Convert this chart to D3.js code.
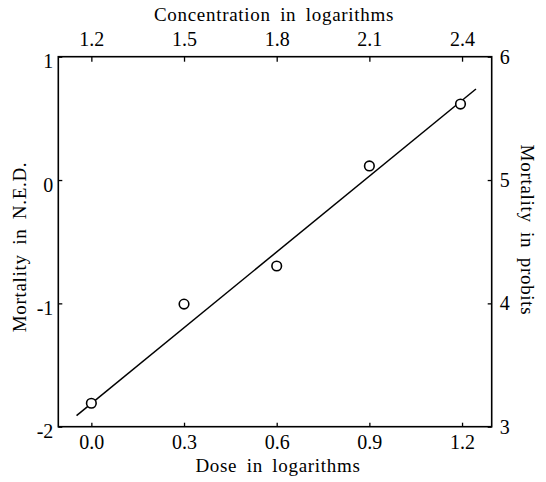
<!DOCTYPE html>
<html>
<head>
<meta charset="utf-8">
<script src="https://cdn.jsdelivr.net/npm/d3@7"></script>
<style>
  body { margin: 0; background: #fff; }
  text { font-family: "Liberation Serif", "Times New Roman", serif; fill: #000; }
</style>
</head>
<body>
<div id="chart"></div>
<script>
// data
var doses = [0.0, 0.3, 0.6, 0.9, 1.195];
var mortalityNed = [-1.81, -1.006, -0.697, 0.114, 0.616];
// fitted line end points (dose, N.E.D.)
var lineDose = [-0.048, 1.245];
var lineNed = [-1.91, 0.738];
// tick labels
var doseTicks = [0.0, 0.3, 0.6, 0.9, 1.2];
var concTicks = [1.2, 1.5, 1.8, 2.1, 2.4];
var nedTicks = [-2, -1, 0, 1];
var probitTicks = [3, 4, 5, 6];

var margin = { top: 56.7, right: 54.3, bottom: 55.3, left: 58.3 },
  width = 546 - margin.left - margin.right,
  height = 482 - margin.top - margin.bottom;

var svg = d3.select("#chart")
  .append("svg")
  .attr("width", 546)
  .attr("height", 482);

var chart = svg.append("g")
  .attr("transform", "translate(" + margin.left + "," + margin.top + ")");

var x = d3.scaleLinear().domain([-0.107, 1.296]).range([0, width]);
var xTop = d3.scaleLinear().domain([-0.107 + 1.2, 1.296 + 1.2]).range([0, width]);
var y = d3.scaleLinear().domain([-2, 1]).range([height, 0]);
var yRight = d3.scaleLinear().domain([3, 6]).range([height, 0]);

// plain hyphen for negatives, like the printed figure
var intFmt = function (d) { return String(d); };

// bottom axis
var gb = chart.append("g")
  .attr("transform", "translate(0," + height + ")")
  .call(d3.axisBottom(x).tickValues(doseTicks).tickFormat(d3.format(".1f"))
    .tickSizeInner(-4).tickSizeOuter(0).tickPadding(8));

// top axis
var gt = chart.append("g")
  .call(d3.axisTop(xTop).tickValues(concTicks).tickFormat(d3.format(".1f"))
    .tickSizeInner(-5).tickSizeOuter(0).tickPadding(11));

// left axis
var gl = chart.append("g")
  .call(d3.axisLeft(y).tickValues(nedTicks).tickFormat(intFmt)
    .tickSizeInner(-4).tickSizeOuter(0).tickPadding(5));
gl.selectAll("text").attr("dy", "0.55em");

// right axis
var gr = chart.append("g")
  .attr("transform", "translate(" + width + ",0)")
  .call(d3.axisRight(yRight).tickValues(probitTicks).tickFormat(intFmt)
    .tickSizeInner(-4).tickSizeOuter(0).tickPadding(8));

[gb, gt, gl, gr].forEach(function (g) {
  g.select(".domain").remove();
  g.selectAll("line").attr("stroke", "#000").attr("stroke-width", 1.3);
  g.selectAll("text").style("font-size", "20px").style("font-family", "Liberation Serif");
});

// frame
chart.append("rect")
  .attr("x", 0).attr("y", 0)
  .attr("width", width).attr("height", height)
  .attr("fill", "none")
  .attr("stroke", "#000")
  .attr("stroke-width", 1.6);

// fitted line
chart.append("path")
  .datum(d3.zip(lineDose, lineNed))
  .attr("fill", "none")
  .attr("stroke", "#000")
  .attr("stroke-width", 1.5)
  .attr("d", d3.line()
    .x(function (d) { return x(d[0]); })
    .y(function (d) { return y(d[1]); }));

// observed points
chart.selectAll("circle.pt")
  .data(d3.zip(doses, mortalityNed))
  .enter().append("circle")
  .attr("class", "pt")
  .attr("cx", function (d) { return x(d[0]); })
  .attr("cy", function (d) { return y(d[1]); })
  .attr("r", 4.8)
  .attr("fill", "#fff")
  .attr("stroke", "#000")
  .attr("stroke-width", 1.6);

// axis titles
function title(t, transform) {
  svg.append("text")
    .attr("transform", transform)
    .attr("text-anchor", "middle")
    .style("font-size", "19px")
    .style("letter-spacing", "0.7px")
    .style("word-spacing", "4px")
    .text(t);
}
title("Concentration in logarithms", "translate(274,21)");
title("Dose in logarithms", "translate(278,472)");
title("Mortality in N.E.D.", "translate(26,247) rotate(-90)");
title("Mortality in probits", "translate(521,230) rotate(90)");
</script>
</body>
</html>
